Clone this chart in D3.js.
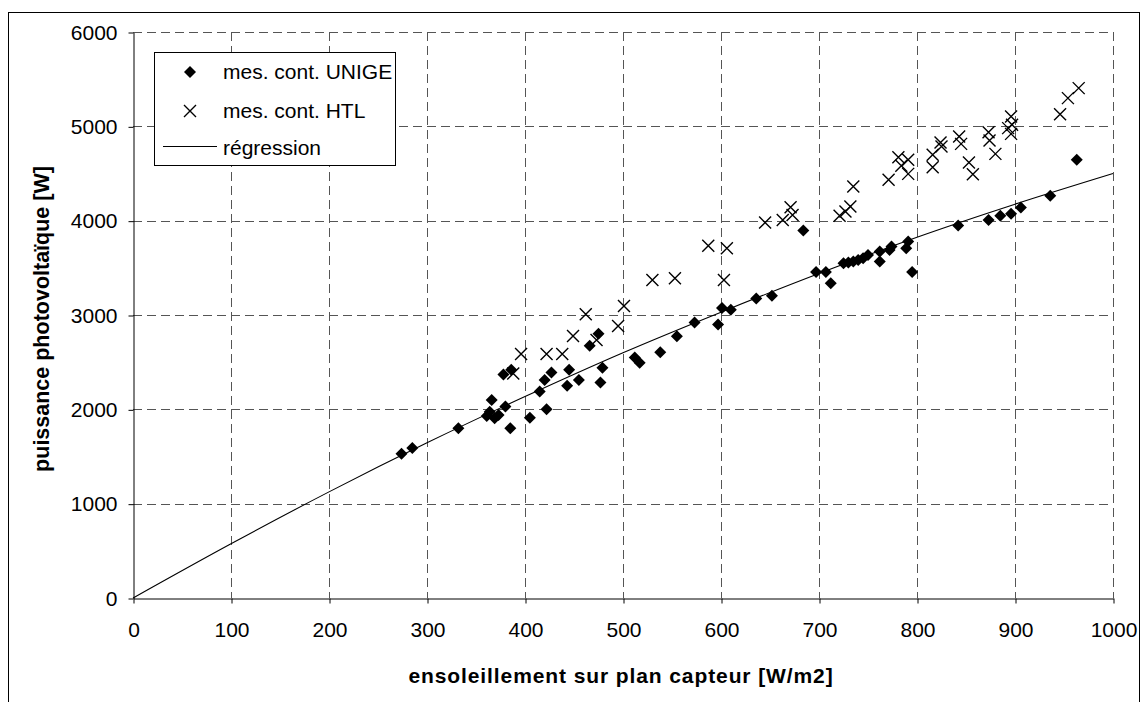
<!DOCTYPE html>
<html>
<head>
<meta charset="utf-8">
<script src="https://cdn.jsdelivr.net/npm/d3@7"></script>
<style>
  html, body { margin: 0; padding: 0; background: #fff; }
  svg { display: block; font-family: "Liberation Sans", Arial, sans-serif; }
</style>
</head>
<body>
<svg id="chart" width="1141" height="702"></svg>
<script>
// Irradiance on collector plane [W/m2] and PV power [W]
const unigeIrr = [274, 285, 332, 361, 364, 366, 369, 373, 380, 378, 385, 386, 405, 415, 420, 422, 427, 443, 445, 455,
                  466, 475, 477, 479, 512, 517, 538, 555, 573, 597, 601, 610, 636, 652, 684, 697, 707, 712, 725, 730,
                  735, 740, 745, 750, 762, 762, 772, 774, 789, 791, 795, 842, 873, 885, 896, 906, 936, 963];
const unigePow = [1530, 1590, 1800, 1930, 1975, 2100, 1905, 1940, 2030, 2370, 1800, 2420, 1910, 2190, 2310, 2000, 2390, 2250, 2420, 2310,
                  2675, 2800, 2285, 2440, 2550, 2495, 2605, 2775, 2920, 2900, 3075, 3055, 3175, 3205, 3895, 3457, 3457, 3337, 3549, 3556,
                  3567, 3584, 3602, 3637, 3672, 3566, 3690, 3725, 3708, 3778, 3457, 3948, 4008, 4051, 4072, 4139, 4263, 4645];

const htlIrr = [388, 396, 422, 438, 449, 462, 473, 495, 501, 530, 553, 587, 603, 606, 645, 663, 671, 673, 721, 727,
                732, 735, 771, 781, 784, 791, 791, 816, 816, 824, 825, 843, 845, 853, 857, 873, 874, 880, 893, 896,
                897, 896, 946, 954, 965];
const htlPow = [2380, 2587, 2587, 2587, 2778, 3008, 2736, 2884, 3096, 3372, 3390, 3733, 3372, 3708, 3980, 4008, 4143, 4061, 4051, 4097,
                4150, 4362, 4433, 4673, 4581, 4645, 4496, 4567, 4698, 4829, 4786, 4892, 4814, 4616, 4493, 4938, 4849, 4708, 4981, 5104,
                5016, 4920, 5129, 5299, 5405];

// Regression curve, read at every 100 W/m2
const regIrr = [0, 100, 200, 300, 400, 500, 600, 700, 800, 900, 1000];
const regPow = [0, 575, 1125, 1645, 2135, 2600, 3030, 3440, 3825, 4175, 4500];

const xTicks = [0, 100, 200, 300, 400, 500, 600, 700, 800, 900, 1000];
const yTicks = [0, 1000, 2000, 3000, 4000, 5000, 6000];

const legendLabels = ["mes. cont. UNIGE", "mes. cont. HTL", "régression"];
const xTitle = "ensoleillement sur plan capteur [W/m2]";
const yTitle = "puissance photovoltaïque [W]";

const svg = d3.select("#chart");

const x = d3.scaleLinear().domain([0, 1000]).range([133, 1113]);
const y = d3.scaleLinear().domain([0, 6000]).range([598, 32]);

// outer frame
svg.append("rect")
  .attr("x", 8.5).attr("y", 12.5)
  .attr("width", 1131).attr("height", 720)
  .attr("fill", "none").attr("stroke", "#000").attr("stroke-width", 1);

// dashed grid
const grid = svg.append("g").attr("stroke", "#555").attr("stroke-width", 1).attr("stroke-dasharray", "9,5");
grid.selectAll(".gx").data(xTicks.filter(d => d > 0)).join("line")
  .attr("x1", d => Math.round(x(d)) + 0.5).attr("x2", d => Math.round(x(d)) + 0.5)
  .attr("y1", y(6000)).attr("y2", y(0));
grid.selectAll(".gy").data(yTicks.filter(d => d > 0)).join("line")
  .attr("x1", x(0)).attr("x2", x(1000))
  .attr("y1", d => Math.round(y(d)) + 0.5).attr("y2", d => Math.round(y(d)) + 0.5);

// axes
const xAxis = svg.append("g")
  .attr("transform", `translate(0.5,${Math.round(y(0)) + 0.5})`)
  .call(d3.axisBottom(x).tickValues(xTicks).tickSize(5).tickSizeOuter(0).tickPadding(19).tickFormat(d3.format("d")));
const yAxis = svg.append("g")
  .attr("transform", `translate(${Math.round(x(0)) + 0.5},0.5)`)
  .call(d3.axisLeft(y).tickValues(yTicks).tickSize(5).tickSizeOuter(0).tickPadding(11).tickFormat(d3.format("d")));

[xAxis, yAxis].forEach(a => {
  a.select(".domain").attr("stroke", "#000");
  a.selectAll(".tick line").attr("stroke", "#000");
  a.selectAll(".tick text").attr("fill", "#000")
    .style("font-family", "'Liberation Sans', Arial, sans-serif").style("font-size", "21px");
});

// axis titles
svg.append("text")
  .attr("x", (x(0) + x(1000)) / 2 - 2).attr("y", 683)
  .attr("text-anchor", "middle")
  .style("font-weight", "bold").style("font-size", "21px").style("letter-spacing", "0.9px")
  .text(xTitle);
svg.append("text")
  .attr("transform", `translate(49,${(y(0) + y(6000)) / 2 + 4}) rotate(-90)`)
  .attr("text-anchor", "middle")
  .style("font-weight", "bold").style("font-size", "21.5px")
  .text(yTitle);

// regression curve
const regData = regIrr.map((g, i) => [g, regPow[i]]);
svg.append("path")
  .datum(regData)
  .attr("fill", "none").attr("stroke", "#000").attr("stroke-width", 1.1)
  .attr("d", d3.line().x(d => x(d[0])).y(d => y(d[1])).curve(d3.curveMonotoneX));

// marker shapes
const diamondPath = "M0,-6L6,0L0,6L-6,0Z";
const crossPath = "M-6,-6L6,6M-6,6L6,-6";

const htlData = htlIrr.map((g, i) => [g, htlPow[i]]);
svg.append("g").selectAll("path").data(htlData).join("path")
  .attr("transform", d => `translate(${x(d[0])},${y(d[1])})`)
  .attr("d", crossPath).attr("fill", "none").attr("stroke", "#000").attr("stroke-width", 1.4);

const unigeData = unigeIrr.map((g, i) => [g, unigePow[i]]);
svg.append("g").selectAll("path").data(unigeData).join("path")
  .attr("transform", d => `translate(${x(d[0])},${y(d[1])})`)
  .attr("d", diamondPath).attr("fill", "#000");

// legend
const lg = svg.append("g");
lg.append("rect").attr("x", 154.5).attr("y", 52.5).attr("width", 241).attr("height", 113)
  .attr("fill", "#fff").attr("stroke", "#000").attr("stroke-width", 1);
const rows = [72, 111, 148];
lg.append("path").attr("transform", `translate(190,${rows[0]})`).attr("d", diamondPath).attr("fill", "#000");
lg.append("path").attr("transform", `translate(190,${rows[1]})`).attr("d", crossPath)
  .attr("fill", "none").attr("stroke", "#000").attr("stroke-width", 1.4);
lg.append("line").attr("x1", 163).attr("x2", 217).attr("y1", rows[2] - 1.5).attr("y2", rows[2] - 1.5)
  .attr("stroke", "#000").attr("stroke-width", 1);
lg.selectAll("text").data(legendLabels).join("text")
  .attr("x", 223).attr("y", (d, i) => rows[i] + 7)
  .style("font-size", "21px")
  .text(d => d);
</script>
</body>
</html>
